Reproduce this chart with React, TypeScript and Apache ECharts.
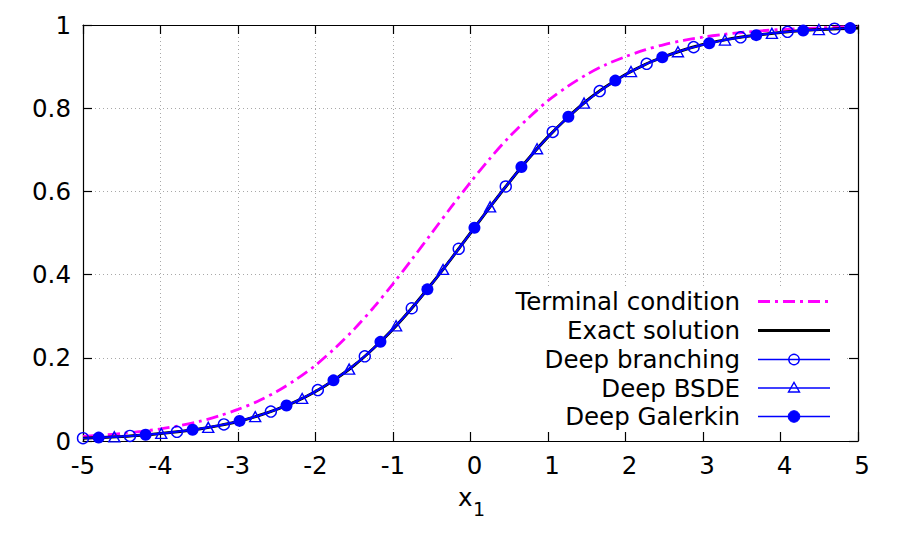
import React, { useEffect, useRef } from "react";
import * as echarts from "echarts";

// Dense grid for the continuous curves (x1 from -5 to 5)
const xCurve = [-5, -4.75, -4.5, -4.25, -4, -3.75, -3.5, -3.25, -3, -2.75, -2.5, -2.25, -2, -1.75, -1.5, -1.25, -1, -0.75, -0.5, -0.25, 0, 0.25, 0.5, 0.75, 1, 1.25, 1.5, 1.75, 2, 2.25, 2.5, 2.75, 3, 3.25, 3.5, 3.75, 4, 4.25, 4.5, 4.75, 5];

const yTerminal = [0.011, 0.014, 0.018, 0.023, 0.029, 0.037, 0.047, 0.06, 0.076, 0.095, 0.119, 0.148, 0.182, 0.223, 0.269, 0.321, 0.378, 0.438, 0.5, 0.562, 0.622, 0.679, 0.731, 0.777, 0.818, 0.852, 0.881, 0.905, 0.924, 0.94, 0.953, 0.963, 0.971, 0.977, 0.982, 0.986, 0.989, 0.991, 0.993, 0.995, 0.996];

const yExact = [0.0067, 0.0086, 0.011, 0.014, 0.018, 0.023, 0.029, 0.037, 0.047, 0.06, 0.076, 0.095, 0.119, 0.148, 0.182, 0.223, 0.269, 0.321, 0.378, 0.438, 0.5, 0.562, 0.622, 0.679, 0.731, 0.777, 0.818, 0.852, 0.881, 0.905, 0.924, 0.94, 0.953, 0.963, 0.971, 0.977, 0.982, 0.986, 0.989, 0.991, 0.993];

// Deep branching (open circles)
const xBranching = [-5, -4.394, -3.788, -3.182, -2.576, -1.97, -1.364, -0.758, -0.152, 0.455, 1.061, 1.667, 2.273, 2.879, 3.485, 4.091, 4.697];
const yBranching = [0.0067, 0.0122, 0.0221, 0.0398, 0.0707, 0.1224, 0.2036, 0.3191, 0.4621, 0.6118, 0.7429, 0.8412, 0.9066, 0.9468, 0.9703, 0.9836, 0.991];

// Deep BSDE (open triangles)
const xBSDE = [-4.596, -3.99, -3.384, -2.778, -2.172, -1.566, -0.96, -0.354, 0.253, 0.859, 1.465, 2.071, 2.677, 3.283, 3.889, 4.495];
const yBSDE = [0.01, 0.0182, 0.0328, 0.0585, 0.1023, 0.1728, 0.2769, 0.4124, 0.5629, 0.7025, 0.8123, 0.8881, 0.9357, 0.9638, 0.9799, 0.989];

// Deep Galerkin (filled circles)
const xGalerkin = [-4.798, -4.192, -3.586, -2.98, -2.374, -1.768, -1.162, -0.556, 0.051, 0.657, 1.263, 1.869, 2.475, 3.081, 3.687, 4.293, 4.899];
const yGalerkin = [0.0082, 0.0149, 0.027, 0.0483, 0.0852, 0.1458, 0.2383, 0.3645, 0.5127, 0.6586, 0.7795, 0.8663, 0.9224, 0.9561, 0.9756, 0.9865, 0.9926];

const legendNames = ["Terminal condition", "Exact solution", "Deep branching", "Deep BSDE", "Deep Galerkin"];
const xAxisTitle = "x";
const xAxisSub = "1";

const FONT = "DejaVu Sans";
const FS = 24.5;
const BLUE = "#0000ff";
const MAGENTA = "#ff00ff";

const zip = (xs: number[], ys: number[]) => xs.map((x, i) => [x, ys[i]]);

export default function App() {
  const ref = useRef<HTMLDivElement>(null);
  useEffect(() => {
    if (!ref.current) return;
    const chart = echarts.init(ref.current, undefined, { renderer: "svg" });

    const axisCommon = {
      type: "value" as const,
      axisLine: { show: true, onZero: false, lineStyle: { color: "#000", width: 1.2 } },
      axisTick: { show: true, inside: true, length: 9, lineStyle: { color: "#000", width: 1.2 } },
      z: 0,
    };
    const splitLine = { show: true, lineStyle: { color: "#a8a8a8", width: 1, type: [1, 3] } };
    const label = { color: "#000", fontSize: FS, fontFamily: FONT, margin: 12 };
    const xLabel = {
      ...label,
      formatter: (v: number) => (v >= 0 ? `{p|${v}}` : `${v}`),
      rich: { p: { color: "#000", fontSize: FS, fontFamily: FONT, padding: [0, 0, 0, 8] } },
    };

    const legendX = 740;
    const sampleX1 = 758;
    const sampleX2 = 830;
    const markX = 794;
    const rows = [301.5, 330.5, 359.5, 388, 416.5];

    const legendGraphics: any[] = [
      { type: "rect", z: 1, shape: { x: 453, y: 287, width: 393, height: 145 }, style: { fill: "#fff" } },
    ];
    legendNames.forEach((n, i) => {
      legendGraphics.push({
        type: "text", z: 5, x: legendX, y: rows[i],
        style: { text: n, font: `${FS}px "${FONT}"`, fill: "#000", align: "right", verticalAlign: "middle" },
      });
    });
    legendGraphics.push(
      { type: "line", z: 5, shape: { x1: sampleX1, y1: rows[0], x2: sampleX2, y2: rows[0] }, style: { stroke: MAGENTA, lineWidth: 2.8, lineDash: [12, 5, 3, 5] } },
      { type: "line", z: 5, shape: { x1: sampleX1, y1: rows[1], x2: sampleX2, y2: rows[1] }, style: { stroke: "#000", lineWidth: 3 } },
      { type: "line", z: 5, shape: { x1: sampleX1, y1: rows[2], x2: sampleX2, y2: rows[2] }, style: { stroke: BLUE, lineWidth: 1.3 } },
      { type: "circle", z: 6, shape: { cx: markX, cy: rows[2], r: 5.2 }, style: { fill: "none", stroke: BLUE, lineWidth: 1.4 } },
      { type: "line", z: 5, shape: { x1: sampleX1, y1: rows[3], x2: sampleX2, y2: rows[3] }, style: { stroke: BLUE, lineWidth: 1.3 } },
      { type: "polygon", z: 6, shape: { points: [[788.5, rows[3] + 4], [799.5, rows[3] + 4], [794, rows[3] - 5.5]] }, style: { fill: "none", stroke: BLUE, lineWidth: 1.4 } },
      { type: "line", z: 5, shape: { x1: sampleX1, y1: rows[4], x2: sampleX2, y2: rows[4] }, style: { stroke: BLUE, lineWidth: 1.3 } },
      { type: "circle", z: 6, shape: { cx: markX, cy: rows[4], r: 5.8 }, style: { fill: BLUE, stroke: BLUE, lineWidth: 1 } },
      { type: "text", z: 5, x: 458, y: 510, style: { text: xAxisTitle, font: `${FS}px "${FONT}"`, fill: "#000", align: "left", verticalAlign: "bottom" } },
      { type: "text", z: 5, x: 473, y: 518, style: { text: xAxisSub, font: `19px "${FONT}"`, fill: "#000", align: "left", verticalAlign: "bottom" } },
    );

    const hollow = "rgba(0,0,0,0)";

    chart.setOption({
      animation: false,
      backgroundColor: "#fff",
      grid: { left: 83, right: 41, top: 25, bottom: 99, containLabel: false },
      xAxis: [
        { ...axisCommon, position: "bottom", min: -5, max: 5, interval: 1, axisLabel: xLabel, splitLine },
        { ...axisCommon, position: "top", min: -5, max: 5, interval: 1, axisLabel: { show: false }, splitLine: { show: false } },
      ],
      yAxis: [
        { ...axisCommon, position: "left", min: 0, max: 1, interval: 0.2, axisLabel: label, splitLine },
        { ...axisCommon, position: "right", min: 0, max: 1, interval: 0.2, axisLabel: { show: false }, splitLine: { show: false } },
      ],
      series: [
        {
          name: legendNames[0], type: "line", data: zip(xCurve, yTerminal), symbol: "none", smooth: 0.3,
          lineStyle: { color: MAGENTA, width: 2.8, type: [12, 5, 3, 5] }, z: 2,
        },
        {
          name: legendNames[1], type: "line", data: zip(xCurve, yExact), symbol: "none", smooth: 0.3,
          lineStyle: { color: "#000", width: 3 }, z: 3,
        },
        {
          name: legendNames[2], type: "line", data: zip(xBranching, yBranching), symbol: "circle", symbolSize: 11, smooth: 0.35,
          showAllSymbol: true,
          lineStyle: { color: BLUE, width: 1.5 }, itemStyle: { color: hollow, borderColor: BLUE, borderWidth: 1.4 }, z: 4,
        },
        {
          name: legendNames[3], type: "line", data: zip(xBSDE, yBSDE), symbol: "triangle", symbolSize: [11, 10], smooth: 0.35,
          showAllSymbol: true,
          lineStyle: { color: BLUE, width: 1.5 }, itemStyle: { color: hollow, borderColor: BLUE, borderWidth: 1.4 }, z: 5,
        },
        {
          name: legendNames[4], type: "line", data: zip(xGalerkin, yGalerkin), symbol: "circle", symbolSize: 12, smooth: 0.35,
          showAllSymbol: true,
          lineStyle: { color: BLUE, width: 1.5 }, itemStyle: { color: BLUE, borderColor: BLUE, borderWidth: 0 }, z: 6,
        },
      ],
      graphic: legendGraphics,
    });
    return () => chart.dispose();
  }, []);
  return <div ref={ref} style={{ position: "fixed", left: 0, top: 0, width: 899, height: 540, background: "#fff" }} />;
}
